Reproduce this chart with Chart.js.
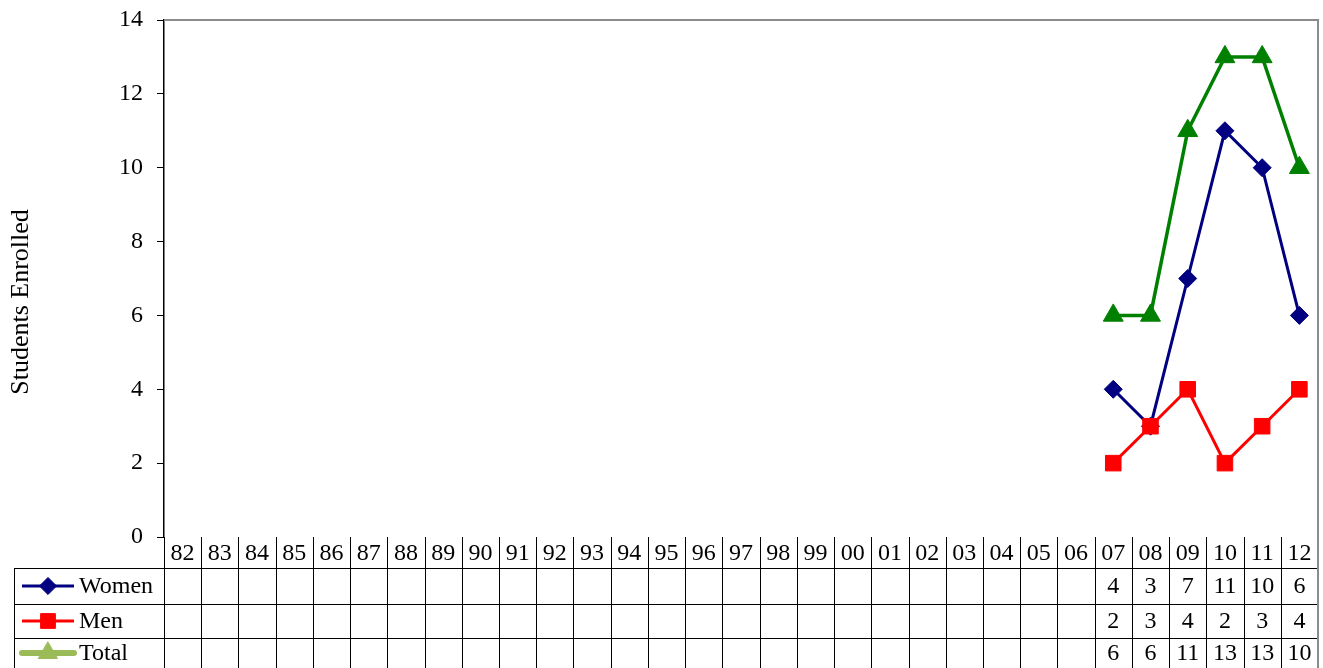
<!DOCTYPE html>
<html>
<head>
<meta charset="utf-8">
<script src="https://cdn.jsdelivr.net/npm/chart.js@4/dist/chart.umd.min.js"></script>
<style>
  html, body { margin: 0; padding: 0; background: #fff; }
</style>
</head>
<body>
<canvas id="chart" width="1323" height="668"></canvas>
<script>
// ---- data ----
const years = ['82','83','84','85','86','87','88','89','90','91','92','93','94','95','96','97','98','99','00','01','02','03','04','05','06','07','08','09','10','11','12'];
const women = [null,null,null,null,null,null,null,null,null,null,null,null,null,null,null,null,null,null,null,null,null,null,null,null,null,4,3,7,11,10,6];
const men   = [null,null,null,null,null,null,null,null,null,null,null,null,null,null,null,null,null,null,null,null,null,null,null,null,null,2,3,4,2,3,4];
const total = [null,null,null,null,null,null,null,null,null,null,null,null,null,null,null,null,null,null,null,null,null,null,null,null,null,6,6,11,13,13,10];
const yTicks = [0, 2, 4, 6, 8, 10, 12, 14];
const yTitle = 'Students Enrolled';

const FONT = '"Liberation Serif", "DejaVu Serif", serif';

// series look (later series drawn on top, like Excel)
const series = [
  { label: 'Women', data: women, color: '#000080', style: 'rectRot', radius: 9,  width: 3, key: '#000080', keyWidth: 3, order: 3 },
  { label: 'Men',   data: men,   color: '#ff0000', style: 'rect',    radius: 11, width: 3, key: '#ff0000', keyWidth: 3, order: 2 },
  { label: 'Total', data: total, color: '#008000', style: 'triangle',radius: 11.5, width: 3.5, key: '#9bbb59', keyWidth: 6, order: 1 }
];

// ---- data table + frame drawn under the plot ----
const tablePlugin = {
  id: 'dataTable',
  afterDraw(chart) {
    const ctx = chart.ctx;
    const a = chart.chartArea;
    const x = chart.scales.x;
    const n = years.length;
    const colW = a.width / n;
    const rowTops = [a.bottom, a.bottom + 31, a.bottom + 67, a.bottom + 101, chart.height];
    const legendLeft = 14;

    ctx.save();
    // gray top/right frame of plot area
    ctx.strokeStyle = '#8c8c8c';
    ctx.lineWidth = 2;
    ctx.beginPath();
    ctx.moveTo(a.left, a.top);
    ctx.lineTo(a.right, a.top);
    ctx.lineTo(a.right, a.bottom);
    ctx.stroke();

    // grid lines of table
    ctx.strokeStyle = '#000';
    ctx.lineWidth = 1;
    ctx.beginPath();
    for (let r = 1; r < 4; r++) {
      const y = Math.round(rowTops[r]) + 0.5;
      ctx.moveTo(legendLeft, y);
      ctx.lineTo(a.right, y);
    }
    for (let i = 0; i < n; i++) {
      const xx = Math.round(x.getPixelForValue(i) - colW / 2) + 0.5;
      ctx.moveTo(xx, a.bottom);
      ctx.lineTo(xx, chart.height);
    }
    ctx.moveTo(legendLeft + 0.5, rowTops[1]);
    ctx.lineTo(legendLeft + 0.5, chart.height);
    ctx.stroke();

    // right edge gray
    ctx.strokeStyle = '#8c8c8c';
    ctx.lineWidth = 2;
    ctx.beginPath();
    ctx.moveTo(a.right, a.bottom);
    ctx.lineTo(a.right, chart.height);
    ctx.stroke();

    ctx.fillStyle = '#000';
    ctx.font = '24px ' + FONT;
    ctx.textAlign = 'center';
    ctx.textBaseline = 'middle';
    // category header
    years.forEach((yr, i) => {
      ctx.fillText(yr, x.getPixelForValue(i), (rowTops[0] + rowTops[1]) / 2 + 1);
    });
    // value rows
    series.forEach((s, r) => {
      const cy = (rowTops[r + 1] + rowTops[r + 2]) / 2 + 1;
      s.data.forEach((v, i) => {
        if (v !== null) ctx.fillText(String(v), x.getPixelForValue(i), cy);
      });
      // legend key
      const ky = cy - 1;
      ctx.strokeStyle = s.key;
      ctx.lineWidth = s.keyWidth;
      ctx.lineCap = s.keyWidth > 3 ? 'round' : 'butt';
      ctx.beginPath();
      ctx.moveTo(22, ky);
      ctx.lineTo(74, ky);
      ctx.stroke();
      ctx.fillStyle = s.key;
      ctx.strokeStyle = s.key;
      ctx.lineWidth = 1;
      Chart.helpers.drawPoint(ctx, {
        pointStyle: s.style, radius: s.radius * 0.95, borderWidth: 1, rotation: 0
      }, 48, ky);
      ctx.fillStyle = '#000';
      ctx.textAlign = 'left';
      ctx.fillText(s.label, 79, cy);
      ctx.textAlign = 'center';
    });

    // y axis title
    ctx.save();
    ctx.translate(21, 302);
    ctx.rotate(-Math.PI / 2);
    ctx.font = '26px ' + FONT;
    ctx.textAlign = 'center';
    ctx.fillText(yTitle, 0, 0);
    ctx.restore();

    ctx.restore();
  }
};

new Chart(document.getElementById('chart'), {
  type: 'line',
  data: {
    labels: years,
    datasets: series.map(s => ({
      label: s.label,
      data: s.data,
      order: s.order,
      borderColor: s.color,
      backgroundColor: s.color,
      borderWidth: s.width,
      pointStyle: s.style,
      pointRadius: s.radius,
      pointHoverRadius: s.radius,
      pointBorderWidth: 1,
      pointBackgroundColor: s.color,
      pointBorderColor: s.color,
      tension: 0,
      spanGaps: false,
      clip: false
    }))
  },
  options: {
    responsive: false,
    animation: false,
    devicePixelRatio: 1,
    layout: { autoPadding: false, padding: { left: 0, top: 20, right: 5, bottom: 131 } },
    plugins: { legend: { display: false }, tooltip: { enabled: false } },
    scales: {
      x: {
        type: 'category',
        offset: true,
        display: false
      },
      y: {
        min: 0,
        max: 14,
        afterBuildTicks: (axis) => { axis.ticks = yTicks.map(v => ({ value: v })); },
        afterFit: (axis) => { axis.width = 164; axis.paddingTop = 0; axis.paddingBottom = 0; },
        ticks: {
          color: '#000',
          padding: 14,
          font: { family: FONT, size: 24 }
        },
        grid: {
          drawOnChartArea: false,
          drawTicks: true,
          tickLength: 7,
          color: '#000'
        },
        border: { color: '#000', width: 1.5 }
      }
    }
  },
  plugins: [tablePlugin]
});
</script>
</body>
</html>
